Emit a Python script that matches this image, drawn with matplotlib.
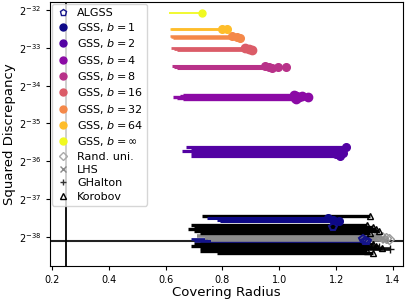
import numpy as np
import matplotlib
matplotlib.use("Agg")
import matplotlib.pyplot as plt
from matplotlib.lines import Line2D
from matplotlib.ticker import FixedLocator, NullLocator

# each run: log2(squared discrepancy), covering radius at start and at end
algss_y = [-37.74, -38.06, -38.10, -38.12]
algss_x0 = [0.76, 0.69, 0.70, 0.72]
algss_x1 = [1.19, 1.295, 1.30, 1.31]

gss1_y = [-37.50, -37.54, -37.58]
gss1_x0 = [0.746, 0.78, 0.79]
gss1_x1 = [1.17, 1.19, 1.21]

gss2_y = [-35.62, -35.71, -35.74, -35.78, -35.82, -35.85, -35.78]
gss2_x0 = [0.672, 0.69, 0.658, 0.69, 0.70, 0.69, 0.70]
gss2_x1 = [1.235, 1.20, 1.21, 1.19, 1.20, 1.215, 1.225]

gss4_y = [-34.24, -34.27, -34.30, -34.33, -34.36, -34.30, -34.28]
gss4_x0 = [0.66, 0.65, 0.627, 0.64, 0.66, 0.67, 0.68]
gss4_x1 = [1.05, 1.06, 1.07, 1.055, 1.06, 1.10, 1.08]

gss8_y = [-33.48, -33.50, -33.52, -33.50, -33.50]
gss8_x0 = [0.623, 0.63, 0.64, 0.65, 0.66]
gss8_x1 = [0.95, 0.965, 0.975, 0.995, 1.024]

gss16_y = [-33.01, -33.03, -33.05]
gss16_x0 = [0.62, 0.63, 0.64]
gss16_x1 = [0.88, 0.895, 0.905]

gss32_y = [-32.70, -32.72, -32.73]
gss32_x0 = [0.616, 0.62, 0.625]
gss32_x1 = [0.835, 0.85, 0.862]

gss64_y = [-32.49, -32.51]
gss64_x0 = [0.616, 0.62]
gss64_x1 = [0.80, 0.815]

gssinf_y = [-32.08]
gssinf_x0 = [0.612]
gssinf_x1 = [0.727]

rand_y = [-38.00, -38.03, -38.06]
rand_x0 = [0.78, 0.75, 0.80]
rand_x1 = [1.36, 1.375, 1.385]

lhs_y = [-37.98, -38.04, -38.08]
lhs_x0 = [0.71, 0.74, 0.76]
lhs_x1 = [1.345, 1.36, 1.37]

ghalton_y = [-38.20, -38.27, -38.33]
ghalton_x0 = [0.72, 0.74, 0.73]
ghalton_x1 = [1.33, 1.35, 1.39]

korobov_y = [-37.44, -37.68, -37.73, -37.78, -37.84, -37.89,
             -38.18, -38.24, -38.30, -38.36, -38.42]
korobov_x0 = [0.728, 0.69, 0.70, 0.68, 0.70, 0.72,
              0.70, 0.69, 0.72, 0.72, 0.78]
korobov_x1 = [1.32, 1.31, 1.33, 1.34, 1.35, 1.32,
              1.33, 1.34, 1.36, 1.31, 1.33]

ref_radius = 0.25
ref_disc = -38.1
ytick_exp = [-38, -37, -36, -35, -34, -33, -32]

cols = plt.cm.plasma(np.linspace(0, 1, 8))

fig = plt.figure(figsize=(4.07, 3.02), dpi=100)
ax = fig.add_axes([0.1229, 0.119, 0.8673, 0.876])


def draw(y, x0, x1, color, marker, lw, ms, mfc=None, mew=1.0, z=2):
    y = 2.0 ** np.array(y)
    for yy, a, b in zip(y, x0, x1):
        ax.plot([a, b], [yy, yy], color=color, lw=lw, solid_capstyle="butt", zorder=z)
    ax.plot(x1, y, ls="none", marker=marker, color=color, ms=ms,
            mfc=color if mfc is None else mfc, mew=mew, zorder=4)


ax.axhline(2.0 ** ref_disc, color="#222222", lw=1.5, zorder=1)
ax.axvline(ref_radius, color="black", lw=1.3, zorder=1)

draw(algss_y, algss_x0, algss_x1, "#14148a", "p", 2.0, 5.5, mfc="none", mew=1.5)
draw(rand_y, rand_x0, rand_x1, "#999999", "D", 2.6, 5, mfc="none")
draw(lhs_y, lhs_x0, lhs_x1, "#8c8c8c", "x", 2.6, 5)
draw(ghalton_y, ghalton_x0, ghalton_x1, "#111111", "+", 2.6, 6)
draw(korobov_y, korobov_x0, korobov_x1, "black", "^", 2.4, 4.5, mfc="none")
draw(gss1_y, gss1_x0, gss1_x1, cols[0], "o", 2.2, 5.5, z=3)
draw(gss2_y, gss2_x0, gss2_x1, cols[1], "o", 2.3, 5.5, z=3)
draw(gss4_y, gss4_x0, gss4_x1, cols[2], "o", 2.4, 6, z=3)
draw(gss8_y, gss8_x0, gss8_x1, cols[3], "o", 2.2, 5.5, z=3)
draw(gss16_y, gss16_x0, gss16_x1, cols[4], "o", 2.0, 6, z=3)
draw(gss32_y, gss32_x0, gss32_x1, cols[5], "o", 1.8, 5.5, z=3)
draw(gss64_y, gss64_x0, gss64_x1, cols[6], "o", 1.8, 5.5, z=3)
draw(gssinf_y, gssinf_x0, gssinf_x1, cols[7], "o", 1.3, 5, z=3)

ax.set_yscale("log", base=2)
ax.yaxis.set_major_locator(FixedLocator([2.0 ** e for e in ytick_exp]))
ax.yaxis.set_minor_locator(NullLocator())
ax.set_yticklabels([f"$2^{{{e}}}$" for e in ytick_exp])
ax.set_xlim(0.194, 1.435)
ax.set_ylim(2.0 ** -38.77, 2.0 ** -31.775)
ax.set_xticks([0.2, 0.4, 0.6, 0.8, 1.0, 1.2, 1.4])
ax.tick_params(labelsize=7, length=3)
ax.set_xlabel("Covering Radius", fontsize=9.5, labelpad=1)
ax.set_ylabel("Squared Discrepancy", fontsize=9.5, labelpad=2)

handles = [Line2D([], [], ls="none", marker="p", color="#14148a", mfc="none", ms=5)]
for c in cols:
    handles.append(Line2D([], [], ls="none", marker="o", color=c, ms=5))
handles += [
    Line2D([], [], ls="none", marker="D", color="#aaaaaa", mfc="none", ms=4.5),
    Line2D([], [], ls="none", marker="x", color="#888888", ms=4.5),
    Line2D([], [], ls="none", marker="+", color="#333333", ms=5),
    Line2D([], [], ls="none", marker="^", color="black", mfc="none", ms=4.5),
]
labels = ["ALGSS"] + [f"GSS, $b = {b}$" for b in ["1", "2", "4", "8", "16", "32", "64", r"\infty"]] \
    + ["Rand. uni.", "LHS", "GHalton", "Korobov"]
ax.legend(handles, labels, loc="upper left", fontsize=8, borderaxespad=0.2,
          handlelength=1.3, handletextpad=0.6, labelspacing=0.3, borderpad=0.35)

fig.savefig("out.png", dpi=100)
